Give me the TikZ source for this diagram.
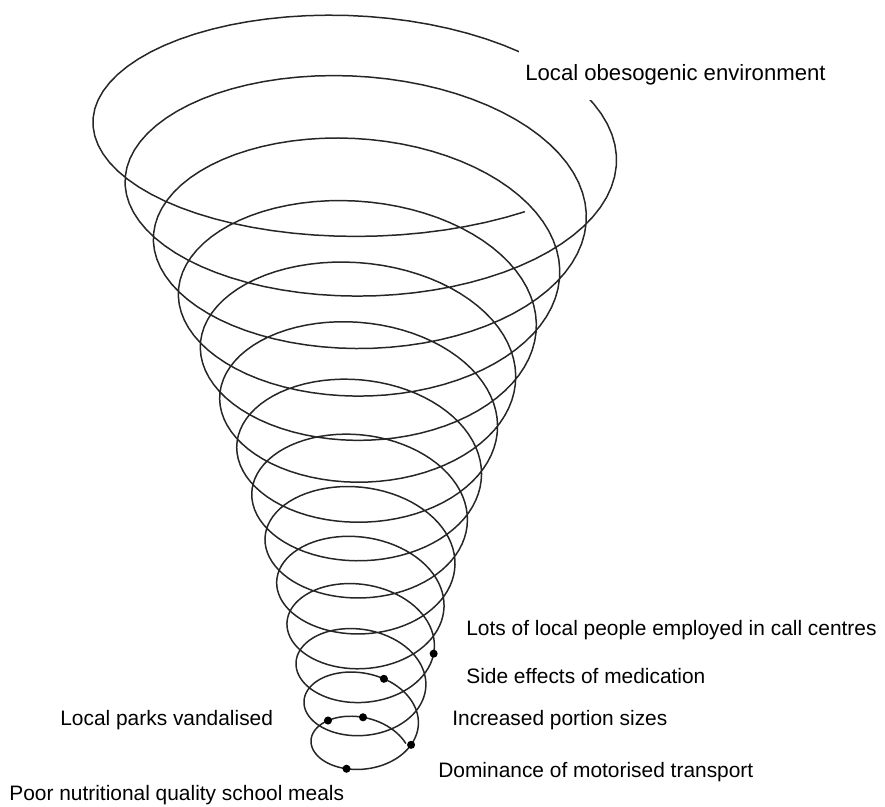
\documentclass[tikz,border=0pt]{standalone}
\usepackage{fontspec}
\setmainfont{Liberation Sans}
\begin{document}
\begin{tikzpicture}[x=0.02cm, y=-0.02cm,
  declare function={
    % radius of the cone at parameter u (turns)
    sprx(\u)=270*exp(-0.1267*(\u-0.5));
    % vertical radius: flatter at the top, rounder near the tip
    spry(\u)=sprx(\u)*(0.70-0.22*exp(-(\u-0.75)/3.5));
    % height of the turn centre, with a little extra drop at the tip
    spcy(\u)=141.75+59*(\u-0.75)-0.97*(\u-0.75)*(\u-0.75)+9*exp((\u-13.92)/0.9);
    spx(\u)=363+sprx(\u)*cos(360*\u);
    spy(\u)=spcy(\u)+spry(\u)*sin(360*\u)+0.025*sprx(\u)*cos(360*\u);
  },
  spiral/.style={line width=0.85pt, black!85, line join=round, line cap=round},
  factor/.style={fill=black},
  lbl/.style={anchor=west, inner sep=0pt, font=\fontsize{11.9}{14}\selectfont},
  toplbl/.style={anchor=west, fill=white, inner xsep=3.4pt, inner ysep=0pt,
                 minimum height=1cm, font=\fontsize{12.6}{15}\selectfont},
]
\useasboundingbox (0,0) rectangle (885,806);

% the tapering spiral
\draw[spiral] plot[domain=0.153:13.92, samples=1100] ({spx(\x)},{spy(\x)});

% points on the spiral
\coordinate (pLots)  at ({spx(11.02)},{spy(11.02)});
\coordinate (pSide)  at ({spx(12.81)},{spy(12.81)});
\coordinate (pParks) at ({spx(13.63)},{spy(13.63)});
\coordinate (pPort)  at ({spx(13.75)},{spy(13.75)});
\coordinate (pDom)   at ({spx(13.08)},{spy(13.08)});
\coordinate (pMeals) at ({spx(13.30)},{spy(13.30)});
\foreach \p in {pLots,pSide,pParks,pPort,pDom,pMeals}
  \fill[factor] (\p) circle[radius=2.3pt];

% labels
\node[toplbl] (env) at (519,75) {Local obesogenic environment};
\node[lbl] (lots)  at (466,630) {Lots of local people employed in call centres};
\node[lbl] (side)  at (466,676) {Side effects of medication};
\node[lbl] (port)  at (452,720) {Increased portion sizes};
\node[lbl] (parks) at (60,720)  {Local parks vandalised};
\node[lbl] (dom)   at (438,772) {Dominance of motorised transport};
\node[lbl] (meals) at (9,795)   {Poor nutritional quality school meals};
\end{tikzpicture}
\end{document}
